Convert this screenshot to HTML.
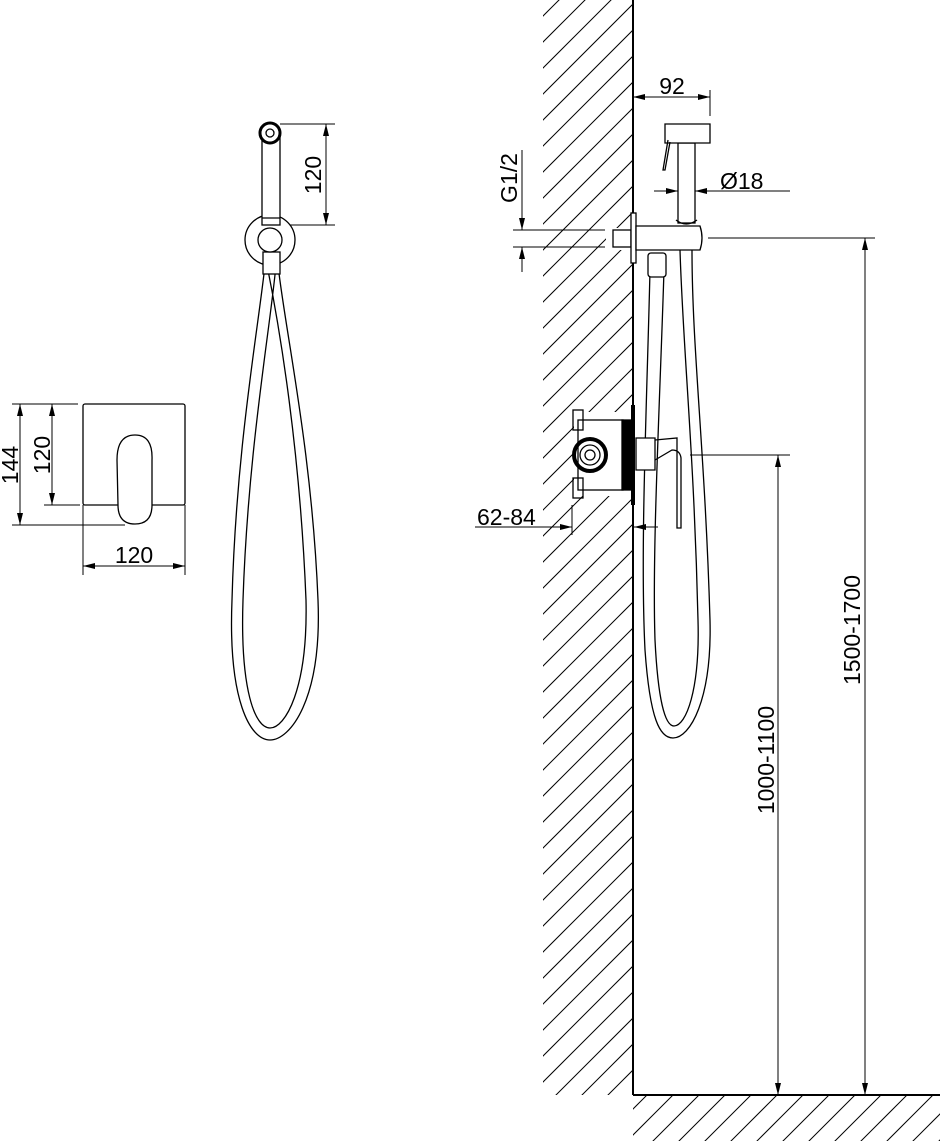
<!DOCTYPE html>
<html><head><meta charset="utf-8"><style>
html,body{margin:0;padding:0;background:#fff;}
svg{display:block;}
text{font-family:"Liberation Sans",sans-serif;font-size:23px;fill:#000;}
</style></head><body>
<svg width="940" height="1141" viewBox="0 0 940 1141" xmlns="http://www.w3.org/2000/svg">
<defs>
<clipPath id="cw"><path d="M543,0 H633 V1095 H543Z M574,412 V496 H632 V412Z M606,228 V250 H633 V228Z" clip-rule="evenodd"/></clipPath>
<clipPath id="cf"><rect x="633" y="1096" width="307" height="45"/></clipPath>
<marker id="a" viewBox="0 0 12 6" refX="12" refY="3" markerWidth="12" markerHeight="6" markerUnits="userSpaceOnUse" orient="auto-start-reverse"><path d="M0,0 L12,3 L0,6z" fill="#000"/></marker>
</defs>
<g stroke="#000" stroke-width="1" clip-path="url(#cw)" id="hw"></g>
<g stroke="#000" stroke-width="1" clip-path="url(#cf)" id="hf"></g>
<script>
(function(){var ns="http://www.w3.org/2000/svg";
function fill(id,x0,x1,y0,y1){var g=document.getElementById(id);if(g.childNodes.length)return;
for(var c=x0+y0;c<=x1+y1+40;c+=26){var l=document.createElementNS(ns,"line");
l.setAttribute("x1",c-y1-40);l.setAttribute("y1",y1+40);l.setAttribute("x2",c-y0+40);l.setAttribute("y2",y0-40);g.appendChild(l);}}
fill("hw",543,633,-10,1100);fill("hf",600,940,1090,1141);})();
</script>
<g fill="none" stroke="#000" stroke-width="1.3">
<line x1="633" y1="0" x2="633" y2="1095" stroke-width="2"/>
<line x1="633" y1="1095" x2="940" y2="1095" stroke-width="2"/>

<rect x="83" y="404" width="102" height="101" rx="2"/>
<path d="M118,505 L117,460 Q117,435 135,435 Q153,435 152,460 L152,505 Q152,524 135,524 Q118,524 118,505Z" fill="#fff"/>
<line x1="12" y1="404" x2="78" y2="404" stroke-width="1"/>
<line x1="44" y1="505" x2="80" y2="505" stroke-width="1"/>
<line x1="12" y1="525" x2="125" y2="525" stroke-width="1"/>
<line x1="20" y1="404" x2="20" y2="525" stroke-width="1" marker-start="url(#a)" marker-end="url(#a)"/>
<line x1="52" y1="404" x2="52" y2="505" stroke-width="1" marker-start="url(#a)" marker-end="url(#a)"/>
<line x1="83" y1="505" x2="83" y2="575" stroke-width="1"/>
<line x1="185" y1="505" x2="185" y2="575" stroke-width="1"/>
<line x1="83" y1="566" x2="185" y2="566" stroke-width="1" marker-start="url(#a)" marker-end="url(#a)"/>

<path d="M265,265 C258,330 236,450 232,600 C228,700 250,740 270,740 C290,740 322,700 318,600 C312,450 285,330 278,265" />
<path d="M276,265 C270,330 248,450 243,600 C240,690 255,728 270,728 C285,728 308,690 306,600 C300,450 280,330 267,265"/>
<circle cx="270" cy="240" r="25"/>
<rect x="262" y="133" width="18" height="92" fill="#fff"/>
<line x1="262" y1="218" x2="280" y2="218"/>
<circle cx="270" cy="133" r="10" stroke-width="3" fill="#fff"/>
<circle cx="270" cy="133" r="4"/>
<rect x="263" y="252" width="17" height="22" fill="#fff"/>
<circle cx="270" cy="240" r="12" fill="#fff"/>
<line x1="280" y1="124" x2="335" y2="124" stroke-width="1"/>
<line x1="290" y1="225" x2="335" y2="225" stroke-width="1"/>
<line x1="326" y1="124" x2="326" y2="225" stroke-width="1" marker-start="url(#a)" marker-end="url(#a)"/>

<path d="M650,270 C647,400 640,550 645,650 C650,720 660,738 673,738 C690,738 712,700 710,620 C705,450 692,350 692,250"/>
<path d="M664,270 C660,400 652,550 655,640 C658,700 665,726 674,726 C686,726 700,690 698,620 C694,450 683,350 680,250"/>
<rect x="648" y="253" width="18" height="24" rx="3" fill="#fff"/>
<rect x="613" y="230" width="18" height="17" fill="#fff"/>
<rect x="631" y="213" width="5" height="50" fill="#fff"/>
<path d="M636,226 L700,226 Q704,238 700,250 L636,250Z" fill="#fff"/>
<rect x="678" y="143" width="17" height="80" fill="#fff"/>
<path d="M676,220 Q686,228 697,220"/>
<path d="M665,124 L710,124 L710,143 L665,143 Z" fill="#fff"/>
<path d="M668,140 L663,170 L665,170 L670,142" />
<rect x="578" y="420" width="45" height="70"/>
<rect x="573" y="410" width="10" height="20"/>
<rect x="573" y="478" width="10" height="20"/>
<rect x="622" y="420" width="10" height="70" fill="#000"/>
<circle cx="590" cy="455" r="16" stroke-width="4"/>
<circle cx="590" cy="455" r="10"/>
<circle cx="590" cy="455" r="5"/>
<line x1="633" y1="405" x2="633" y2="505" stroke-width="4"/>
<path d="M636,438 L655,438 L655,470 L636,470 Z" fill="#fff"/>
<path d="M655,440 L677,438 L677,528 L681,528 L681,458 Q680,450 672,450 L655,460"/>

<line x1="710" y1="90" x2="710" y2="116" stroke-width="1"/>
<line x1="633" y1="97" x2="710" y2="97" stroke-width="1" marker-start="url(#a)" marker-end="url(#a)"/>
<line x1="654" y1="191" x2="678" y2="191" stroke-width="1" marker-end="url(#a)"/>
<line x1="790" y1="191" x2="695" y2="191" stroke-width="1" marker-end="url(#a)"/>
<line x1="513" y1="230" x2="605" y2="230" stroke-width="1"/>
<line x1="513" y1="247" x2="605" y2="247" stroke-width="1"/>
<line x1="522" y1="150" x2="522" y2="230" stroke-width="1" marker-end="url(#a)"/>
<line x1="522" y1="272" x2="522" y2="247" stroke-width="1" marker-end="url(#a)"/>
<line x1="708" y1="238" x2="875" y2="238" stroke-width="1"/>
<line x1="865" y1="238" x2="865" y2="1095" stroke-width="1" marker-start="url(#a)" marker-end="url(#a)"/>
<line x1="690" y1="455" x2="790" y2="455" stroke-width="1"/>
<line x1="778" y1="455" x2="778" y2="1095" stroke-width="1" marker-start="url(#a)" marker-end="url(#a)"/>
<line x1="572" y1="505" x2="572" y2="535" stroke-width="1"/>
<line x1="475" y1="527" x2="572" y2="527" stroke-width="1" marker-end="url(#a)"/>
<line x1="658" y1="527" x2="634" y2="527" stroke-width="1" marker-end="url(#a)"/>
</g>
<text x="18" y="465" transform="rotate(-90 18 465)" text-anchor="middle">144</text>
<text x="50" y="455" transform="rotate(-90 50 455)" text-anchor="middle">120</text>
<text x="321" y="175" transform="rotate(-90 321 175)" text-anchor="middle">120</text>
<text x="517" y="178" transform="rotate(-90 517 178)" text-anchor="middle">G1/2</text>
<text x="860" y="630" transform="rotate(-90 860 630)" text-anchor="middle">1500-1700</text>
<text x="774" y="760" transform="rotate(-90 774 760)" text-anchor="middle">1000-1100</text>
<text x="134" y="563" text-anchor="middle">120</text>
<text x="672" y="94" text-anchor="middle">92</text>
<text x="720" y="189">Ø18</text>
<text x="477" y="525">62-84</text>
</svg>
</body></html>
